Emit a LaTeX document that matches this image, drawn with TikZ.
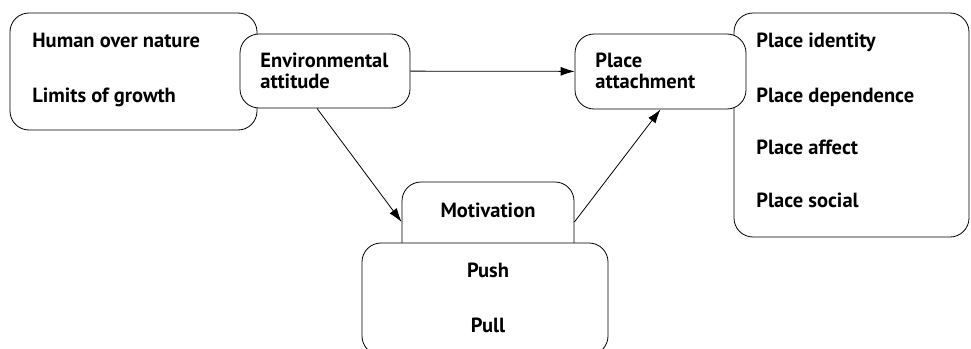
\documentclass[tikz,border=0pt]{standalone}
\usepackage{fontspec}
\setmainfont{PT Sans}
\usetikzlibrary{arrows.meta}

\begin{document}
\begin{tikzpicture}[x=1pt, y=-1pt, line width=.8pt,
  box/.style={draw, fill=white, rounded corners=19pt, inner sep=0pt},
  txt/.style={anchor=base west, inner sep=0pt, font=\bfseries\fontsize{20.5}{24}\selectfont},
  ctxt/.style={txt, anchor=base},
  link/.style={-{Latex[length=14pt, width=9pt]}}]
  \useasboundingbox (0,0) rectangle (971,348);
  \clip (0,0) rectangle (971,348);
  \node (nature) [box, minimum width=247pt, minimum height=117pt] at (133.5,71.5) {};
  \node (attitude) [box, minimum width=170pt, minimum height=74pt] at (325,71) {};
  \node (dims) [box, minimum width=235pt, minimum height=224pt] at (851.5,125) {};
  \node (place) [box, minimum width=171pt, minimum height=75pt] at (660.5,71.5) {};
  \node (motiv) [box, minimum width=172pt, minimum height=80pt] at (488,222) {};
  \node (push) [box, minimum width=246pt, minimum height=112pt] at (485,299) {};
  \node (t1) [txt] at (32,47) {Human over nature};
  \node (t2) [txt] at (32,102) {Limits of growth};
  \node (t3) [txt] at (260,67) {Environmental};
  \node (t4) [txt] at (260,88) {attitude};
  \node (t5) [txt] at (595,67) {Place};
  \node (t6) [txt] at (595,88) {attachment};
  \node (t7) [txt] at (756,47) {Place identity};
  \node (t8) [txt] at (756,102) {Place dependence};
  \node (t9) [txt] at (756,154) {Place affect};
  \node (t10) [txt] at (756,207) {Place social};
  \node (t11) [ctxt] at (488,217) {Motivation};
  \node (t12) [ctxt] at (488,277) {Push};
  \node (t13) [ctxt] at (488,332) {Pull};
  \draw [link] (attitude) -- (place);
  \draw [link] (attitude.south) ++(-8,0) coordinate (a1) (a1) -- (motiv.west);
  \draw [link] (motiv.east) -- (place.south);
\end{tikzpicture}
\end{document}
